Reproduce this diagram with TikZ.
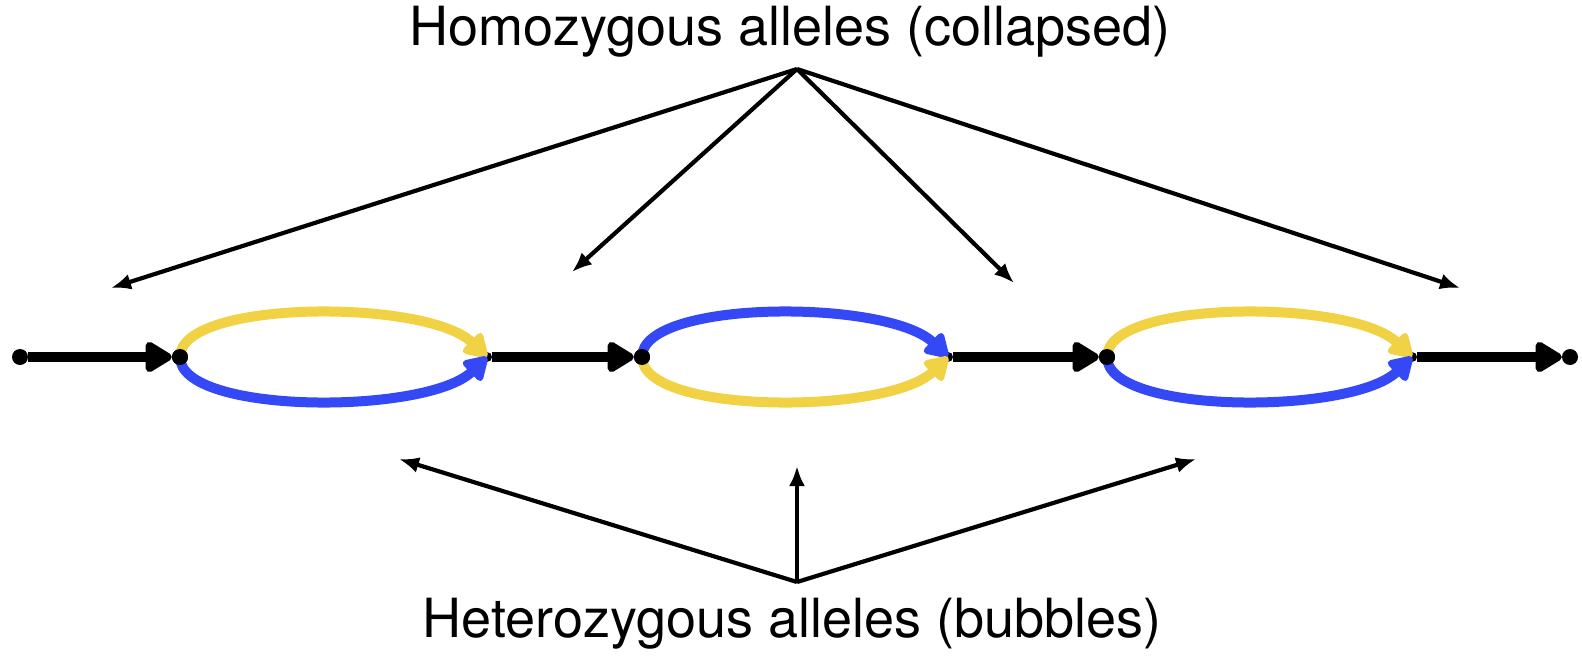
\documentclass[tikz,border=0pt]{standalone}
\usepackage{fontspec}
\setmainfont{TeX Gyre Heros}
\usetikzlibrary{arrows.meta}
\definecolor{yel}{RGB}{240,210,68}
\definecolor{blu}{RGB}{52,72,245}
\begin{document}
\begin{tikzpicture}[x=1pt,y=-1pt,
  dot/.style={circle,fill=black,inner sep=0pt,minimum size=16pt},
  mainedge/.style={line width=10pt,-{Triangle[length=30pt,width=34pt,round]}},
  yedge/.style={line width=10pt,draw=yel,-{Triangle[length=26pt,width=30pt,round]}},
  bedge/.style={line width=10pt,draw=blu,-{Triangle[length=26pt,width=30pt,round]}},
  pointer/.style={line width=4.2pt,-{Latex[length=20pt,width=16pt]}},
  lbl/.style={font=\fontsize{54}{62}\selectfont,inner sep=0pt}]
\useasboundingbox (0,0) rectangle (1582,658);
% labels
\node[lbl] (htop) at (790,32) {Homozygous alleles (collapsed)};
\node[lbl] (hbot) at (792,624) {Heterozygous alleles (bubbles)};
% graph nodes
\node[dot] (s) at (20,357) {};
\node[dot] (n1) at (180,357) {};
\node[dot,minimum size=10pt] (n2) at (487,357) {};
\node[dot] (n3) at (642,357) {};
\node[dot,minimum size=10pt] (n4) at (948,357) {};
\node[dot] (n5) at (1107,357) {};
\node[dot,minimum size=10pt] (n6) at (1412,357) {};
\node[dot] (e) at (1570,357) {};
% black edges
\draw[mainedge] (s) -- (n1);
\draw[mainedge] (n2) -- (n3);
\draw[mainedge] (n4) -- (n5);
\draw[mainedge] (n6) -- (e);
% bubbles
\draw[yedge] (n1.center) .. controls +(0,-58) and +(-60,-58) .. (n2.center);
\draw[bedge] (n1.center) .. controls +(0,58) and +(-60,58) .. (n2.center);
\draw[bedge] (n3.center) .. controls +(0,-58) and +(-60,-58) .. (n4.center);
\draw[yedge] (n3.center) .. controls +(0,58) and +(-60,58) .. (n4.center);
\draw[yedge] (n5.center) .. controls +(0,-58) and +(-60,-58) .. (n6.center);
\draw[bedge] (n5.center) .. controls +(0,58) and +(-60,58) .. (n6.center);
\fill (n1) circle (8pt);
\fill (n3) circle (8pt);
\fill (n5) circle (8pt);
% pointers
\coordinate (ta) at (797,69);
\coordinate (t1) at (111,288);
\coordinate (t2) at (572,272);
\coordinate (t3) at (1014,283);
\coordinate (t4) at (1460,288);
\draw[pointer] (ta) -- (t1);
\draw[pointer] (ta) -- (t2);
\draw[pointer] (ta) -- (t3);
\draw[pointer] (ta) -- (t4);
\coordinate (ba) at (797,582);
\coordinate (b1) at (399,459);
\coordinate (b2) at (797,466);
\coordinate (b3) at (1196,459);
\draw[pointer] (ba) -- (b1);
\draw[pointer] (ba) -- (b2);
\draw[pointer] (ba) -- (b3);
\end{tikzpicture}
\end{document}
